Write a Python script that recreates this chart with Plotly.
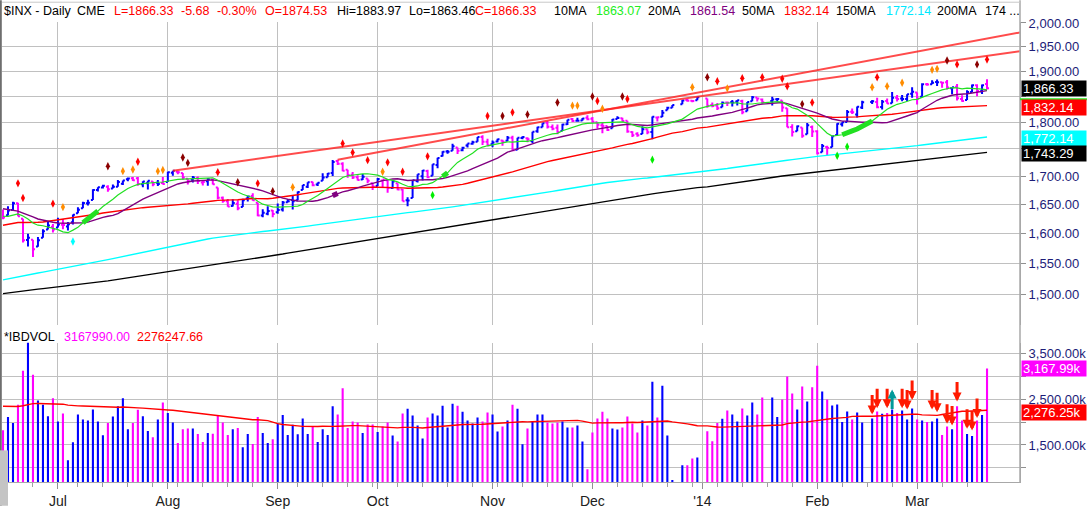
import numpy as np
import pandas as pd
import plotly.graph_objects as go

############################################################################################
# $INX daily bars with moving averages, trendlines and IBD volume (Jun 2013 - Mar 2014)
############################################################################################

# the feed leaves these holidays out, but keeps an empty slot for the later ones
skipped_days = ["2013-07-04", "2013-09-02", "2013-11-28"]
blank_days = ["2013-12-25", "2014-01-01", "2014-01-20", "2014-02-17"]

# closes before the first visible bar, only used to warm up the moving averages
prior_close = [
    1411.13, 1410.44, 1409.30, 1410.49, 1399.48, 1406.58,
    1404.94, 1403.44, 1432.12, 1437.92, 1429.08, 1433.56, 1436.56, 1459.99, 1465.77, 1461.19,
    1459.32, 1461.05, 1460.26, 1460.15, 1456.89, 1441.59, 1433.32, 1447.15, 1440.67,
    1444.49, 1445.75, 1450.99, 1461.40, 1460.93, 1455.88, 1441.48, 1432.56, 1432.84, 1428.59,
    1440.13, 1454.92, 1460.91, 1457.34, 1433.19, 1433.82, 1413.11, 1408.75, 1412.97, 1411.94, 1412.16,
    1427.59, 1414.20, 1417.26, 1428.39, 1394.53, 1377.51, 1379.85, 1380.03, 1374.53, 1355.49,
    1353.33, 1359.88, 1386.89, 1387.81, 1391.03, 1409.15, 1406.29, 1398.94, 1409.93, 1415.95, 1416.18,
    1409.46, 1407.05, 1409.28, 1413.94, 1418.07, 1418.55, 1427.84, 1428.48, 1419.45, 1413.58,
    1430.36, 1446.79, 1435.81, 1443.69, 1430.15, 1426.66, 1419.83, 1418.10, 1402.43, 1426.19,
    1462.42, 1459.37, 1466.47, 1461.89, 1457.15, 1461.02, 1472.12, 1472.05, 1470.68, 1472.34,
    1472.63, 1480.94, 1485.98, 1492.56, 1494.81, 1494.82, 1502.96, 1500.18, 1507.84, 1501.96, 1498.11,
    1513.17, 1495.71, 1511.29, 1512.12, 1509.39, 1517.93, 1517.01, 1519.43, 1520.33, 1521.38,
    1519.79, 1530.94, 1511.95, 1502.42, 1515.60, 1487.85, 1496.94, 1515.99, 1514.68,
    1518.20, 1525.20, 1539.79, 1541.46, 1544.26, 1551.18, 1556.22, 1552.48, 1554.52, 1563.23,
    1560.70, 1552.10, 1548.34, 1558.71, 1545.80, 1556.89, 1551.69, 1563.77, 1562.85, 1569.19,
    1562.17, 1570.25, 1553.69, 1559.98, 1553.28, 1563.07, 1568.61, 1587.73, 1593.37, 1588.85, 1552.36,
    1574.57, 1552.01, 1541.61, 1555.25, 1562.50, 1578.78, 1578.79, 1585.16, 1582.24, 1593.61, 1597.57,
    1582.70, 1597.59, 1614.42, 1617.50, 1625.96, 1632.69, 1626.67, 1633.70, 1633.77, 1650.34, 1658.78,
    1650.47, 1667.47, 1666.29, 1669.16, 1655.35, 1650.51, 1649.60, 1660.06, 1648.36, 1654.41, 1630.74,
    1640.42, 1631.38, 1608.90, 1622.56, 1643.38, 1642.81, 1626.13, 1612.52, 1636.36,
]

open_ = [
    # Jun
    1635.52, 1630.64, 1639.77, 1651.83, 1624.62, 1588.62, 1588.77, 1577.52, 1592.27, 1606.44, 1611.12,
    # Jul
    1609.78, 1614.29, 1611.48, 1618.65, 1634.20, 1642.89, 1651.56, 1657.41, 1675.26, 1679.59, 1681.05,
    1677.91, 1681.05, 1686.15, 1694.41, 1696.06, 1696.06, 1685.21, 1687.31, 1690.32, 1687.92, 1687.76,
    # Aug
    1689.42, 1706.10, 1708.01, 1705.79, 1695.30, 1693.35, 1696.10, 1688.37, 1690.65, 1693.88, 1679.61,
    1661.22, 1655.25, 1646.81, 1650.66, 1645.03, 1659.92, 1664.29, 1652.54, 1630.25, 1633.50, 1638.89,
    # Sep
    1635.95, 1640.72, 1653.28, 1657.44, 1656.85, 1675.11, 1681.04, 1689.21, 1685.04, 1691.70,
    1697.73, 1705.74, 1727.34, 1722.44, 1711.44, 1702.60, 1698.02, 1694.05, 1695.52, 1687.26,
    # Oct
    1682.41, 1691.90, 1692.35, 1678.79, 1687.15, 1676.22, 1656.99, 1660.88, 1691.09, 1699.86, 1709.17,
    1700.49, 1720.17, 1736.72, 1745.20, 1746.48, 1752.27, 1747.48, 1756.01, 1759.42, 1762.93, 1772.27, 1763.24,
    # Nov
    1758.70, 1763.40, 1765.67, 1765.00, 1770.74, 1748.37, 1769.96, 1769.51, 1764.37, 1782.75,
    1790.66, 1798.82, 1790.79, 1789.59, 1783.52, 1796.19, 1806.33, 1802.87, 1803.48, 1808.69,
    # Dec
    1806.55, 1800.10, 1794.08, 1792.82, 1788.36, 1806.21, 1807.60, 1802.76, 1781.71, 1777.98, 1777.48,
    1786.47, 1781.46, 1809.00, 1810.39, 1822.92, 1828.02, 1834.96, 1842.97, 1841.47, 1842.61,
    # Jan
    1845.86, 1833.21, 1832.31, 1828.71, 1837.90, 1839.00, 1840.06, 1841.26, 1821.36, 1840.52, 1847.99,
    1844.23, 1841.05, 1844.71, 1842.29, 1826.96, 1791.03, 1783.00, 1790.15, 1777.17, 1790.88,
    # Feb
    1782.68, 1743.82, 1753.38, 1752.99, 1776.01, 1796.20, 1800.45, 1820.12, 1814.82, 1828.46,
    1839.03, 1838.90, 1829.24, 1841.07, 1836.78, 1847.66, 1845.79, 1844.90, 1855.12,
    # Mar
    1857.68, 1849.23, 1874.05, 1874.18, 1878.52, 1877.86, 1878.26, 1866.15, 1869.06, 1845.07,
    1842.81, 1858.92, 1872.25, 1860.09, 1874.53,
]

high = [
    1640.80, 1646.50, 1654.19, 1652.45, 1624.62, 1599.19, 1588.77, 1593.79, 1606.83, 1620.07, 1615.94,
    1626.61, 1624.26, 1618.97, 1632.07, 1644.68, 1654.18, 1657.92, 1676.63, 1680.19, 1684.51, 1683.73,
    1684.75, 1693.12, 1692.09, 1697.61, 1698.38, 1698.38, 1690.94, 1691.85, 1690.92, 1693.19, 1698.43,
    1707.85, 1709.67, 1709.24, 1705.79, 1695.30, 1700.18, 1699.42, 1691.49, 1696.81, 1695.52, 1679.61,
    1663.60, 1659.18, 1658.92, 1656.99, 1659.55, 1664.85, 1669.51, 1652.54, 1641.18, 1646.41, 1640.08,
    1651.35, 1655.72, 1659.17, 1664.83, 1672.40, 1684.09, 1689.13, 1689.97, 1688.73, 1704.95,
    1705.52, 1729.44, 1729.86, 1725.23, 1711.44, 1707.63, 1701.71, 1703.85, 1695.52, 1687.26,
    1696.55, 1693.87, 1692.35, 1691.94, 1687.15, 1676.79, 1662.47, 1692.56, 1703.44, 1711.03, 1711.57,
    1721.76, 1733.45, 1745.31, 1747.79, 1759.33, 1752.27, 1753.94, 1759.82, 1764.99, 1772.09, 1775.22, 1768.53,
    1765.67, 1768.78, 1767.03, 1773.74, 1774.54, 1770.78, 1773.44, 1771.78, 1782.00, 1791.53,
    1798.22, 1802.33, 1795.51, 1795.73, 1797.16, 1804.84, 1808.10, 1808.42, 1808.27, 1813.55,
    1810.02, 1800.10, 1799.80, 1792.82, 1806.04, 1811.52, 1808.52, 1802.97, 1782.99, 1780.92, 1792.22,
    1786.77, 1811.08, 1810.88, 1823.75, 1829.75, 1833.32, 1842.84, 1844.89, 1842.47, 1849.44,
    1845.86, 1838.24, 1837.16, 1840.10, 1840.02, 1843.23, 1843.15, 1843.45, 1839.26, 1850.84, 1847.99,
    1846.04, 1849.31, 1846.87, 1842.29, 1826.96, 1795.98, 1793.87, 1790.15, 1798.77, 1793.88,
    1784.83, 1758.73, 1755.79, 1774.06, 1798.03, 1799.94, 1823.54, 1826.55, 1830.25, 1841.65,
    1842.87, 1847.50, 1842.79, 1846.13, 1858.71, 1852.91, 1852.65, 1854.53, 1867.92,
    1857.68, 1876.23, 1876.53, 1881.94, 1883.57, 1877.87, 1882.35, 1868.38, 1874.40, 1852.44,
    1862.30, 1873.76, 1874.14, 1873.49, 1883.97,
]

low = [
    1623.96, 1630.34, 1639.77, 1628.91, 1584.32, 1577.70, 1560.33, 1577.09, 1592.27, 1606.44, 1601.06,
    1609.78, 1606.77, 1604.57, 1614.71, 1634.20, 1642.89, 1647.66, 1657.41, 1672.33, 1677.89, 1671.84,
    1677.91, 1681.05, 1684.08, 1690.67, 1691.13, 1682.57, 1680.07, 1676.03, 1681.86, 1682.42, 1684.94,
    1689.42, 1700.68, 1703.55, 1693.29, 1684.91, 1688.38, 1686.02, 1683.35, 1682.62, 1684.83, 1658.59,
    1652.61, 1645.80, 1646.08, 1639.43, 1645.03, 1654.81, 1656.02, 1629.05, 1627.47, 1630.88, 1627.47,
    1633.41, 1637.41, 1653.07, 1640.62, 1656.85, 1675.11, 1678.70, 1681.96, 1682.22, 1691.70,
    1697.73, 1700.35, 1720.20, 1708.89, 1697.10, 1694.90, 1691.88, 1693.11, 1687.11, 1674.99,
    1682.07, 1680.34, 1670.36, 1677.33, 1674.70, 1655.03, 1646.47, 1660.88, 1688.52, 1692.13, 1695.93,
    1700.49, 1714.12, 1735.74, 1740.67, 1746.48, 1740.50, 1745.50, 1752.45, 1757.67, 1762.93, 1757.24, 1755.72,
    1752.70, 1761.56, 1755.76, 1764.40, 1746.20, 1747.63, 1767.85, 1762.29, 1760.64, 1780.22,
    1790.66, 1788.00, 1784.72, 1777.23, 1783.52, 1794.70, 1800.58, 1800.77, 1802.77, 1803.98,
    1798.60, 1787.85, 1779.09, 1783.38, 1788.36, 1806.21, 1801.75, 1780.09, 1772.28, 1772.45, 1777.48,
    1777.05, 1767.99, 1801.35, 1810.25, 1822.92, 1828.02, 1834.96, 1839.81, 1838.77, 1842.41,
    1827.74, 1829.13, 1823.73, 1828.71, 1831.40, 1830.38, 1832.43, 1815.52, 1821.36, 1840.52, 1840.30,
    1835.23, 1832.38, 1840.88, 1820.06, 1790.29, 1772.88, 1783.00, 1770.45, 1777.17, 1772.26,
    1739.66, 1743.82, 1737.92, 1752.99, 1776.01, 1791.83, 1800.41, 1815.97, 1809.22, 1825.59,
    1835.01, 1826.99, 1824.58, 1835.60, 1836.78, 1840.19, 1840.66, 1841.13, 1847.67,
    1834.44, 1849.23, 1871.11, 1874.18, 1870.56, 1867.04, 1863.88, 1854.38, 1841.86, 1839.57,
    1842.81, 1858.92, 1850.35, 1854.63, 1863.46,
]

close = [
    1626.73, 1639.04, 1651.81, 1628.93, 1588.19, 1592.43, 1573.09, 1588.03, 1603.26, 1613.20, 1606.28,
    1614.96, 1614.08, 1615.41, 1631.89, 1640.46, 1652.32, 1652.62, 1675.02, 1680.19, 1682.50, 1676.26,
    1680.91, 1689.37, 1692.09, 1695.53, 1692.39, 1685.94, 1690.25, 1691.65, 1685.33, 1685.96, 1685.73,
    1706.87, 1709.67, 1707.14, 1697.37, 1690.91, 1697.48, 1691.42, 1689.47, 1694.16, 1685.39, 1661.32,
    1655.83, 1646.06, 1652.35, 1642.80, 1656.96, 1663.50, 1656.78, 1630.48, 1634.96, 1638.17, 1632.97,
    1639.77, 1653.08, 1655.08, 1655.17, 1671.71, 1683.99, 1689.13, 1683.42, 1687.99, 1697.60,
    1704.76, 1725.52, 1722.34, 1709.91, 1701.84, 1697.42, 1692.77, 1698.67, 1691.75, 1681.55,
    1695.00, 1693.87, 1678.66, 1690.50, 1676.12, 1655.45, 1656.40, 1692.56, 1703.20, 1710.14, 1698.06,
    1721.54, 1733.15, 1744.50, 1744.66, 1754.67, 1746.38, 1752.07, 1759.77, 1762.11, 1771.95, 1763.31, 1756.54,
    1761.64, 1767.93, 1762.97, 1770.49, 1747.15, 1770.61, 1771.89, 1767.69, 1782.00, 1790.62,
    1798.18, 1791.53, 1787.87, 1781.37, 1795.85, 1804.76, 1802.48, 1802.75, 1807.23, 1805.81,
    1800.90, 1795.15, 1792.81, 1785.03, 1805.09, 1808.37, 1802.62, 1782.22, 1775.50, 1775.32, 1786.54,
    1781.00, 1810.65, 1809.60, 1818.32, 1827.99, 1833.32, 1842.02, 1841.40, 1841.07, 1848.36,
    1831.98, 1831.37, 1826.77, 1837.88, 1837.49, 1838.13, 1842.37, 1819.20, 1838.88, 1848.38, 1845.89,
    1838.70, 1843.80, 1844.86, 1828.46, 1790.29, 1781.56, 1792.50, 1774.20, 1794.19, 1782.59,
    1741.89, 1755.20, 1751.64, 1773.43, 1797.02, 1799.84, 1819.75, 1819.26, 1829.83, 1838.63,
    1840.76, 1828.75, 1839.78, 1836.25, 1847.61, 1845.12, 1845.16, 1854.29, 1859.45,
    1845.73, 1873.91, 1873.81, 1877.03, 1878.04, 1877.17, 1867.63, 1868.20, 1846.34, 1841.13,
    1858.83, 1872.25, 1860.77, 1872.01, 1866.33,
]

# IBD volume, in thousands
prior_volume = [
    2250, 2180, 2300, 2210, 2260, 2270,
    2350, 2480, 2400, 2350, 2300, 2420, 2250, 2280, 2190, 2240, 2310, 2150, 2080,
    2370, 2250, 2300, 2290, 2400, 2340, 2180, 2420, 2450, 2310, 2360, 2480, 2450, 2520, 2380, 2200,
    2460, 2410, 2550, 2500,
    2460, 2410, 2530, 2520, 2400, 2480, 2420, 2500, 2380, 2440,
]

volume = [
    1819, 2109, 1978, 2377, 3123, 3739, 3036, 2471, 2377, 2130, 2522,
    2015, 2188, 1167, 1558, 2167, 2058, 2036, 2275, 2015, 1710, 1978,
    2123, 2348, 2522, 1841, 1978, 2268, 2130, 1804, 1667, 2058, 2428,
    2196, 1993, 1544, 1841, 1862, 1862, 1739, 1565, 1761, 1747, 2145,
    1993, 1718, 1841, 1870, 1449, 1739, 1522, 2109, 1761, 1544, 1623,
    1971, 2152, 1718, 1942, 1732, 2080, 1739, 1913, 1565, 1841,
    1718, 2348, 2167, 2739, 1870, 2015, 1993, 1761, 1949, 1949,
    1783, 1903, 1990, 1708, 1578, 2185, 2293, 2142, 1925, 1643, 2098,
    2185, 2142, 2358, 1882, 2402, 2358, 2228, 2033, 1968, 2098, 2012, 2207,
    2163, 1795, 1903, 2033, 2380, 2293, 1513, 1860, 2012, 2163,
    2163, 1990, 1968, 1990, 2012, 1882, 1882, 1925, 1578, 971,
    1773, 2077, 2228, 2077, 1860, 1838, 1882, 2120, 1968, 1773, 2033,
    1925, 2879, 2098, 2792, 1708, 733, 1058, 1058, 1203, 1225,
    1797, 1580, 1978, 2073, 2254, 2167, 2015, 2297, 2145, 2428, 2167,
    2536, 2536, 2109, 2493, 2993, 2623, 2275, 2775, 2449, 2760,
    3232, 2667, 2493, 2362, 2384, 2000, 2232, 2058, 2210, 1993,
    2080, 2232, 2181, 2196, 2275, 2196, 2254, 2058, 2297,
    2058, 2036, 2000, 2015, 2080, 1718, 1906, 1841, 2348, 2036,
    1739, 1696, 2036, 2152, 3167.99,
]

# values printed in the header / price boxes
last_labels = {"close": 1866.33, "ma10": 1863.07, "ma20": 1861.54, "ma50": 1832.14,
               "ma150": 1772.14, "ma200": 1743.29, "vol": 3167.99, "vol_ma": 2276.25}

# signal dots above / below the bars
dot_dates = [
    "2013-06-19", "2013-06-20", "2013-06-28", "2013-07-02", "2013-07-05", "2013-07-16", "2013-07-19",
    "2013-07-23", "2013-07-24", "2013-07-30", "2013-07-31", "2013-08-06", "2013-08-07", "2013-08-15",
    "2013-08-21", "2013-08-27", "2013-08-30", "2013-09-06", "2013-09-20", "2013-09-24", "2013-09-27",
    "2013-10-02", "2013-10-03", "2013-10-08", "2013-10-15", "2013-10-16", "2013-10-31", "2013-11-05",
    "2013-11-07", "2013-11-12", "2013-11-20", "2013-11-25", "2013-11-26", "2013-12-02", "2013-12-03",
    "2013-12-04", "2013-12-10", "2013-12-11", "2013-12-18", "2013-12-30", "2014-01-02", "2014-01-06",
    "2014-01-08", "2014-01-13", "2014-01-17", "2014-01-23", "2014-01-24", "2014-01-29", "2014-01-31",
    "2014-02-07", "2014-02-11", "2014-02-18", "2014-02-19", "2014-02-21", "2014-02-26", "2014-03-06",
    "2014-03-07", "2014-03-11", "2014-03-13", "2014-03-19", "2014-03-21",
]
dot_prices = [
    1687, 1661, 1651, 1645, 1586, 1718, 1709,
    1712, 1726, 1709, 1711, 1734, 1724, 1707,
    1689, 1687, 1673, 1680, 1760, 1743, 1729,
    1708, 1725, 1708, 1736, 1666, 1812, 1812,
    1819, 1815, 1838, 1832, 1832, 1850, 1841,
    1826, 1850, 1845, 1730, 1868, 1888, 1880,
    1866, 1886, 1888, 1885, 1870, 1835, 1838,
    1737, 1754, 1868, 1888, 1870, 1877, 1903,
    1905, 1922, 1914, 1914, 1924,
]
dot_kinds = [
    "r", "r", "r", "o", "c", "d", "o",
    "o", "r", "o", "o", "d", "d", "r",
    "d", "r", "d", "o", "r", "r", "r",
    "o", "r", "r", "r", "g", "r", "d",
    "r", "d", "d", "o", "o", "d", "r",
    "o", "d", "r", "g", "o", "d", "r",
    "o", "r", "r", "r", "r", "d", "r",
    "g", "g", "o", "r", "o", "o", "o",
    "o", "d", "r", "d", "r",
]

# volume arrows (tip value in thousands)
arrow_dates = ["2014-02-18", "2014-02-19", "2014-02-21", "2014-02-24", "2014-02-26", "2014-02-27",
               "2014-02-28", "2014-03-06", "2014-03-07", "2014-03-11", "2014-03-12", "2014-03-13",
               "2014-03-17", "2014-03-18", "2014-03-19"]
arrow_tips = [2166, 2304, 2304, 2710, 2304, 2275, 2485, 2275, 2217, 1963, 1927, 2449, 1854, 1818, 2087]
arrow_dirs = ["down", "down", "down", "up", "down", "down", "down", "down", "down", "down", "down",
              "down", "down", "down", "down"]

# trendlines drawn on the chart: anchor bar high -> value at the right edge
trend_start_dates = ["2013-08-02", "2013-09-19"]
trend_start_prices = [1709.67, 1729.86]
trend_end_prices = [1941.0, 1980.0]

# moving average crossover highlights
cross_marks = [("ma10", "2013-07-09", "2013-07-12"), ("ma20", "2013-09-18", "2013-09-19"),
               ("ma10", "2013-10-18", "2013-10-21"), ("ma10", "2014-02-10", "2014-02-18")]

month_starts = ["2013-07-01", "2013-08-01", "2013-09-03", "2013-10-01", "2013-11-01", "2013-12-02",
                "2014-01-01", "2014-02-03", "2014-03-03"]
month_labels = ["Jul", "Aug", "Sep", "Oct", "Nov", "Dec", "'14", "Feb", "Mar"]

price_ticks = [1500, 1550, 1600, 1650, 1700, 1750, 1800, 1850, 1900, 1950, 2000]
price_hidden = [1750, 1850]  # covered by the value boxes
vol_ticks = [1000, 1500, 2000, 2500, 3000, 3500]

############################################################################################

BLUE = "#0000ff"
MAGENTA = "#ff00ff"
GRID = "#c0c0c0"
AXIS_TXT = "#1c1c78"
FONT = "Liberation Sans"
W, H = 1088, 511
ML, MR, MT, MB = 2, 67, 22, 24
PX_DECADE = 2193  # pixels per decade on the price axis

# chart slots: weekdays minus skipped holidays
slot_days = [d.strftime("%Y-%m-%d") for d in pd.bdate_range("2013-06-14", "2014-03-21")]
slot_days = [d for d in slot_days if d not in skipped_days]
slot = {d: i for i, d in enumerate(slot_days)}
trade_days = [d for d in slot_days if d not in blank_days]
x = np.array([slot[d] for d in trade_days])
x_range = [-0.2, 203.6]

close_all = pd.Series(prior_close + close)
ma = {k: close_all.rolling(n).mean().iloc[-len(close):].values
      for k, n in [("ma10", 10), ("ma20", 20), ("ma50", 50), ("ma150", 150), ("ma200", 200)]}
vol_ma = pd.Series(prior_volume + volume).rolling(50).mean().iloc[-len(volume):].values

prev_close = [prior_close[-1]] + close[:-1]
up = np.array([c >= p for c, p in zip(close, prev_close)])
bar_colors = [BLUE if u else MAGENTA for u in up]

fig = go.Figure()

# moving averages
ma_style = {"ma200": ("#000000", 1.4), "ma150": ("#00ffff", 1.4), "ma50": ("#ff0000", 1.4),
            "ma20": ("#800080", 1.4), "ma10": ("#22e022", 1.2)}
for k in ["ma200", "ma150", "ma50", "ma20", "ma10"]:
    fig.add_trace(go.Scatter(x=x, y=ma[k], mode="lines", line=dict(color=ma_style[k][0], width=ma_style[k][1]),
                             xaxis="x", yaxis="y", hoverinfo="skip", showlegend=False))

for k, d0, d1 in cross_marks:
    sel = np.array([(d0 <= d <= d1) for d in trade_days])
    fig.add_trace(go.Scatter(x=x[sel], y=ma[k][sel], mode="lines",
                             line=dict(color=ma_style[k][0], width=5),
                             xaxis="x", yaxis="y", hoverinfo="skip", showlegend=False))

# trendlines
for d0, p0, p1 in zip(trend_start_dates, trend_start_prices, trend_end_prices):
    fig.add_trace(go.Scatter(x=[slot[d0], x_range[1]], y=[p0, p1], mode="lines",
                             line=dict(color="rgba(255,30,30,0.8)", width=2),
                             xaxis="x", yaxis="y", hoverinfo="skip", showlegend=False))

# price bars, coloured by close versus previous close
df = pd.DataFrame({"x": x, "o": open_, "h": high, "l": low, "c": close, "up": up})
for flag, col in [(True, BLUE), (False, MAGENTA)]:
    part = df[df["up"] == flag]
    fig.add_trace(go.Ohlc(x=part["x"], open=part["o"], high=part["h"], low=part["l"], close=part["c"],
                          increasing=dict(line=dict(color=col, width=2)),
                          decreasing=dict(line=dict(color=col, width=2)),
                          tickwidth=0.4, xaxis="x", yaxis="y", hoverinfo="skip", showlegend=False))

# signal dots
dot_color = {"r": "#ff0000", "d": "#8b0000", "o": "#ff8c00", "g": "#00ee00", "c": "#00ffff"}
fig.add_trace(go.Scatter(x=[slot[d] for d in dot_dates], y=dot_prices, mode="markers",
                         marker=dict(symbol="diamond-tall", size=6, color=[dot_color[k] for k in dot_kinds]),
                         xaxis="x", yaxis="y", hoverinfo="skip", showlegend=False))

# volume panel
fig.add_trace(go.Bar(x=x, y=volume, marker_color=bar_colors, marker_line_width=0, width=0.42,
                     xaxis="x2", yaxis="y2", hoverinfo="skip", showlegend=False))
fig.add_trace(go.Scatter(x=x, y=vol_ma, mode="lines", line=dict(color="#ff0000", width=1.4),
                         xaxis="x2", yaxis="y2", hoverinfo="skip", showlegend=False))

for d, tip, way in zip(arrow_dates, arrow_tips, arrow_dirs):
    fig.add_annotation(x=slot[d], y=tip, xref="x2", yref="y2", text="", showarrow=True,
                       arrowhead=2, arrowsize=0.6, arrowwidth=3,
                       arrowcolor="#ff1a00" if way == "down" else "#009a9a",
                       ax=0, ay=-21 if way == "down" else 21)

# axes
plot_h = H - MT - MB
upper_bottom = (H - MB - 328) / plot_h
lower_top = (H - MB - 346) / plot_h
weekly = [slot[d] for d in slot_days if pd.Timestamp(d).weekday() == 0]
log_top = np.log10(2000) + 1 / PX_DECADE
log_bottom = log_top - 306 / PX_DECADE

fig.update_layout(
    width=W, height=H, margin=dict(l=ML, r=MR, t=MT, b=MB),
    paper_bgcolor="white", plot_bgcolor="white", hovermode=False,
    font=dict(family=FONT, size=13, color="#000000"),
    xaxis=dict(domain=[0, 1], anchor="y", range=x_range, showticklabels=False, ticks="",
               tickmode="array", tickvals=[slot[d] for d in month_starts],
               showgrid=True, gridcolor=GRID, gridwidth=1, zeroline=False,
               rangeslider=dict(visible=False)),
    yaxis=dict(domain=[upper_bottom, 1], anchor="x", side="right", type="log",
               range=[log_bottom, log_top],
               tickmode="array", tickvals=price_ticks,
               ticktext=["" if v in price_hidden else f"{v:,.2f}" for v in price_ticks],
               ticks="outside", ticklen=5, tickcolor="#909090",
               tickfont=dict(family=FONT, size=13, color=AXIS_TXT),
               showgrid=True, gridcolor=GRID, gridwidth=1, zeroline=False,
               showline=True, linecolor="#a8a8a8", linewidth=1),
    xaxis2=dict(domain=[0, 1], anchor="y2", range=x_range, matches="x",
                tickmode="array", tickvals=[slot[d] for d in month_starts], ticktext=month_labels,
                ticks="outside", ticklen=6, tickcolor="#909090",
                tickfont=dict(family=FONT, size=14, color="#202020"),
                minor=dict(tickmode="array", tickvals=weekly, ticks="outside", ticklen=4,
                           tickcolor="#a0a0a0", showgrid=False),
                showgrid=True, gridcolor=GRID, gridwidth=1, zeroline=False,
                showline=True, linecolor="#a8a8a8", linewidth=1),
    yaxis2=dict(domain=[0, lower_top], anchor="x2", side="right",
                range=[691, 3738], tickmode="array", tickvals=vol_ticks,
                ticktext=[f"{v:,.2f}k" if v % 1000 == 500 else "" for v in vol_ticks],
                ticks="outside", ticklen=5, tickcolor="#909090",
                tickfont=dict(family=FONT, size=13, color=AXIS_TXT),
                showgrid=True, gridcolor=GRID, gridwidth=1, zeroline=False,
                showline=True, linecolor="#a8a8a8", linewidth=1),
)

# frame lines
fig.add_shape(type="line", xref="paper", yref="paper", x0=1, x1=1, y0=0, y1=1 + MT / plot_h,
              line=dict(color="#a8a8a8", width=1.5))
fig.add_shape(type="line", xref="paper", yref="paper", x0=-1.2 / (W - ML - MR), x1=-1.2 / (W - ML - MR),
              y0=-MB / plot_h, y1=1 + MT / plot_h, line=dict(color="#6e6e6e", width=2))
fig.add_shape(type="line", xref="paper", yref="paper", x0=0, x1=1, y0=1 + 20 / plot_h, y1=1 + 20 / plot_h,
              line=dict(color="#c8c8c8", width=1))
fig.add_shape(type="rect", xref="paper", yref="paper", x0=-2 / (W - ML - MR), x1=6 / (W - ML - MR),
              y0=-MB / plot_h, y1=(H - MB - 455) / plot_h, fillcolor="#c4c4c4", line_width=0)


def px_x(p):
    return (p - ML) / (W - ML - MR)


def px_y(p):
    return (H - MB - p) / plot_h


# header line
header = [(3, "$INX - Daily", "#000000"), (76, "CME", "#000000"), (113, "L=1866.33", "#ff0000"),
          (180, "-5.68", "#ff0000"), (216, "-0.30%", "#ff0000"), (264, "O=1874.53", "#ff0000"),
          (336, "Hi=1883.97", "#000000"), (408, "Lo=1863.46", "#000000"), (474, "C=1866.33", "#ff0000"),
          (554, "10MA", "#000000"), (596, f"{last_labels['ma10']:.2f}", "#22ee22"),
          (648, "20MA", "#000000"), (690, f"{last_labels['ma20']:.2f}", "#800080"),
          (742, "50MA", "#000000"), (784, f"{last_labels['ma50']:.2f}", "#ff0000"),
          (836, "150MA", "#000000"), (886, f"{last_labels['ma150']:.2f}", "#00e8ff"),
          (937, "200MA", "#000000"), (985, "174 ...", "#000000")]
for px, txt, col in header:
    fig.add_annotation(x=px_x(px), y=px_y(11), xref="paper", yref="paper", text=txt, showarrow=False,
                       xanchor="left", yanchor="middle", borderpad=0,
                       font=dict(family=FONT, size=12.5, color=col))

vol_header = [(3, "*IBDVOL", "#000000"), (63, "3167990.00", "#ff00ff"), (136, "2276247.66", "#ff0000")]
for px, txt, col in vol_header:
    fig.add_annotation(x=px_x(px), y=px_y(340), xref="paper", yref="paper", text=txt, showarrow=False,
                       xanchor="left", yanchor="middle", borderpad=0,
                       font=dict(family=FONT, size=12.5, color=col))

# value boxes on the right axis
fig.add_shape(type="line", xref="paper", yref="paper", x0=1, x1=1 + MR / (W - ML - MR),
              y0=px_y(100), y1=px_y(100), line=dict(color="#22ee22", width=2))
boxes = [("y", np.log10(last_labels["ma150"]), f"{last_labels['ma150']:,.2f}", "#00ffff", -2),
         ("y", np.log10(last_labels["ma200"]), f"{last_labels['ma200']:,.2f}", "#000000", -1),
         ("y", np.log10(last_labels["ma50"]), f"{last_labels['ma50']:,.2f}", "#ff0000", -2),
         ("y", np.log10(last_labels["close"]), f"{last_labels['close']:,.2f}", "#000000", 0),
         ("y2", last_labels["vol"], f"{last_labels['vol']:,.2f}k", "#ff00ff", 0),
         ("y2", last_labels["vol_ma"], f"{last_labels['vol_ma']:,.2f}k", "#ff0000", -3)]
for yref, yv, txt, bg, shift in boxes:
    fig.add_annotation(x=1, y=yv, xref="paper", yref=yref, text=txt, showarrow=False,
                       xanchor="left", yanchor="middle", xshift=1, yshift=shift,
                       bgcolor=bg, width=62, height=13, borderpad=1, align="left",
                       font=dict(family=FONT, size=13, color="#ffffff"))

fig.write_html("out.html", config={"displayModeBar": False},
               post_script="document.body.style.margin='0';document.body.style.overflow='hidden';")
